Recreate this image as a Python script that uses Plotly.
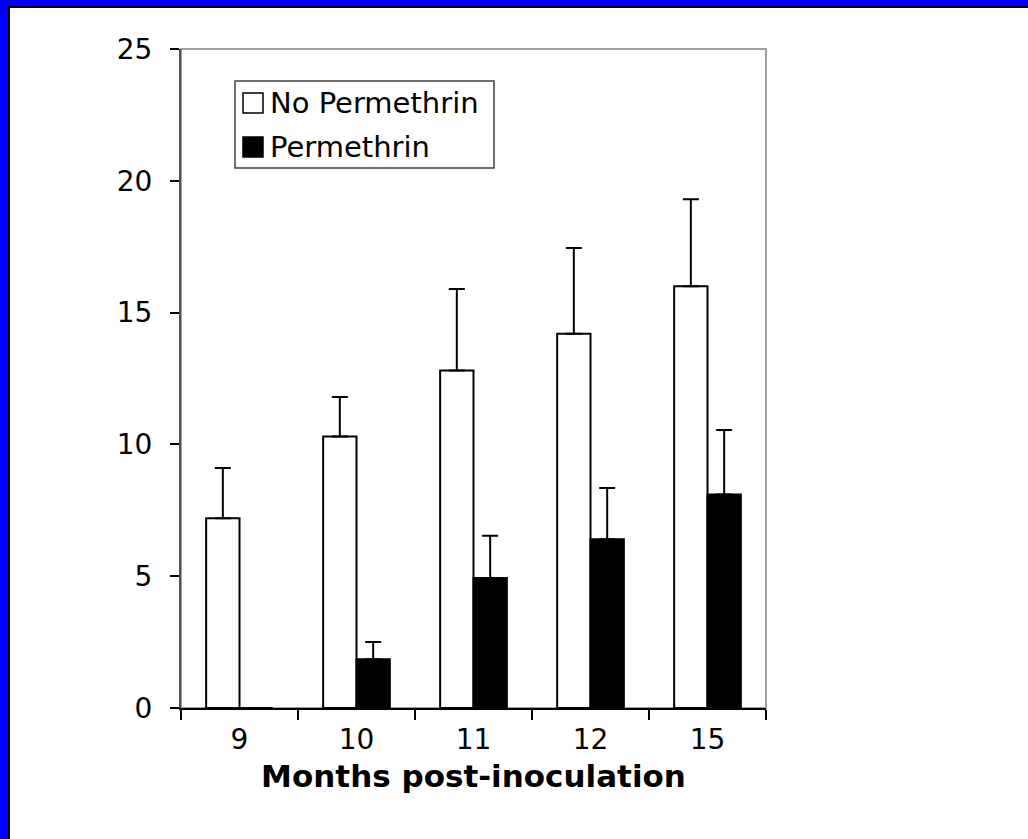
import plotly.graph_objects as go

months = ["9", "10", "11", "12", "15"]
no_perm = [7.2, 10.3, 12.8, 14.2, 16.0]
no_perm_err = [1.9, 1.5, 3.1, 3.25, 3.3]
perm = [0.0, 1.85, 4.93, 6.4, 8.1]
perm_err = [0.0, 0.65, 1.6, 1.95, 2.45]
series_names = ["No Permethrin", "Permethrin"]
y_ticks = [0, 5, 10, 15, 20, 25]

W, H = 1028, 839
L, R, T, B = 181, 766, 49, 708
FONT = "DejaVu Sans"


def px(x):
    return (x - L) / (R - L)


def py(y):
    return (B - y) / (B - T)


fig = go.Figure()
fig.add_trace(go.Bar(
    x=months, y=no_perm, name=series_names[0],
    marker=dict(color="white", line=dict(color="black", width=2)),
    error_y=dict(type="data", array=no_perm_err, arrayminus=[0] * 5, symmetric=False,
                 color="black", thickness=2, width=8),
    showlegend=False,
))
fig.add_trace(go.Bar(
    x=months, y=perm, name=series_names[1],
    marker=dict(color="black", line=dict(color="black", width=2)),
    error_y=dict(type="data", array=perm_err, arrayminus=[0] * 5, symmetric=False,
                 color="black", thickness=2, width=8),
    showlegend=False,
))

shapes = [
    dict(type="rect", xref="paper", yref="paper", x0=0, x1=1, y0=0, y1=1,
         line=dict(color="#a0a0a0", width=2), layer="below"),
    dict(type="rect", xref="paper", yref="paper", x0=px(0), x1=px(W), y0=py(0), y1=py(6),
         fillcolor="#0000ff", line=dict(width=0)),
    dict(type="rect", xref="paper", yref="paper", x0=px(0), x1=px(8), y0=py(0), y1=py(H),
         fillcolor="#0000ff", line=dict(width=0)),
    dict(type="rect", xref="paper", yref="paper", x0=px(8), x1=px(W), y0=py(6), y1=py(8),
         fillcolor="black", line=dict(width=0)),
    dict(type="rect", xref="paper", yref="paper", x0=px(8), x1=px(10), y0=py(6), y1=py(H),
         fillcolor="black", line=dict(width=0)),
    dict(type="rect", xref="paper", yref="paper", x0=px(235), x1=px(494), y0=py(81), y1=py(168),
         fillcolor="white", line=dict(color="#404040", width=1.5)),
    dict(type="rect", xref="paper", yref="paper", x0=px(243), x1=px(263), y0=py(93), y1=py(113),
         fillcolor="white", line=dict(color="black", width=1.5)),
    dict(type="rect", xref="paper", yref="paper", x0=px(243), x1=px(263), y0=py(137), y1=py(157),
         fillcolor="black", line=dict(color="black", width=1.5)),
]

annotations = [
    dict(xref="paper", yref="paper", x=px(268), y=py(103), text=series_names[0],
         showarrow=False, xanchor="left", yanchor="middle",
         font=dict(family=FONT, size=29, color="black")),
    dict(xref="paper", yref="paper", x=px(268), y=py(147), text=series_names[1],
         showarrow=False, xanchor="left", yanchor="middle",
         font=dict(family=FONT, size=29, color="black")),
]

fig.update_layout(
    width=W, height=H,
    margin=dict(l=L, r=W - R, t=T, b=H - B, pad=0),
    paper_bgcolor="white", plot_bgcolor="white",
    barmode="group", bargap=0.43, bargroupgap=0,
    font=dict(family=FONT, size=28, color="black"),
    shapes=shapes, annotations=annotations,
    xaxis=dict(
        type="category", tickson="boundaries", ticks="outside", ticklen=10,
        tickwidth=1.5, tickcolor="black", showline=True, linecolor="black", linewidth=1.5,
        showgrid=False, zeroline=False, tickfont=dict(family=FONT, size=28),
        ticklabelstandoff=6,
        title=dict(text="<b>Months post-inoculation</b>", standoff=10,
                   font=dict(family=FONT, size=31)),
    ),
    yaxis=dict(
        range=[0, 25], tickvals=y_ticks, ticks="outside", ticklen=9, tickwidth=1.5,
        tickcolor="black", showline=True, linecolor="#505050", linewidth=2,
        showgrid=False, zeroline=False, tickfont=dict(family=FONT, size=28),
        ticklabelstandoff=12,
    ),
)

fig.write_html("out.html")
